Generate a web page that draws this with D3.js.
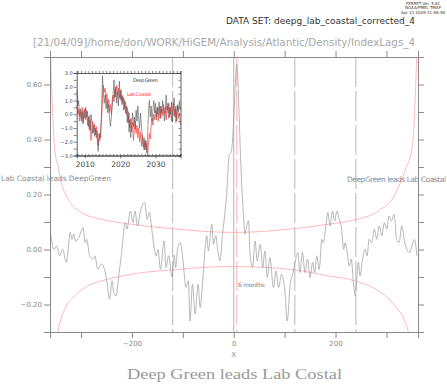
<!DOCTYPE html>
<html>
<head>
<meta charset="utf-8">
<script src="https://cdn.jsdelivr.net/npm/d3@7"></script>
<style>
body { margin: 0; background: #fff; }
text { font-family: "DejaVu Sans", sans-serif; }
</style>
</head>
<body>
<svg id="chart" width="447" height="384"></svg>
<script>
// lagged correlation
var lags = [-360,-353,-348,-342,-336,-329,-321,-318,-314,-311,-304,-296,-292,-289,-283,-276,-273,-267,-260,-254,
    -249,-244,-239,-236,-231,-226,-221,-213,-210,-203,-198,-194,-189,-184,-175,-170,-166,-161,-157,-152,
    -149,-144,-137,-133,-128,-121,-117,-114,-110,-105,-99,-94,-89,-86,-81,-76,-70,-66,-61,-56,
    -53,-50,-43,-40,-35,-32,-27,-22,-19,-14,-8.5,-5,-2,1,6,9,12,16,19,22,
    25,29,32,37,42,46,52,57,61,66,71,78,83,88,94,101,105,111,116,121,
    126,130,135,140,145,150,155,159,163,168,173,176,181,185,189,194,198,203,207,212,
    216,219,222,227,231,235,239,242,245,248,253,258,262,266,271,276,281,286,291,296,
    301,305,310,315,320,325,330,336,340,345,350,355,360];
var corr = [0.062,0.0,0.013,-0.023,0.0,-0.047,0.062,0.037,0.056,0.031,0.045,0.08,0.025,0.037,-0.023,-0.035,-0.023,-0.072,-0.053,-0.072,
    -0.12,-0.181,-0.114,-0.156,-0.169,-0.096,-0.023,0.098,0.074,0.14,0.098,0.14,0.086,0.135,0.171,0.11,0.135,0.074,0.013,-0.023,
    0.0,-0.072,0.031,-0.065,-0.023,-0.1,-0.02,-0.065,0.007,0.025,-0.053,-0.138,-0.114,-0.26,-0.126,-0.235,-0.126,-0.211,-0.114,0.007,
    0.05,-0.005,0.092,0.019,0.05,0.005,-0.041,0.056,0.104,0.201,0.347,0.353,0.407,0.516,0.674,0.577,0.407,0.225,0.128,0.056,
    0.08,0.104,-0.017,-0.065,0.031,-0.041,0.019,-0.065,-0.005,-0.102,-0.029,-0.138,-0.078,-0.138,-0.09,-0.163,-0.26,-0.126,-0.09,-0.041,
    -0.011,-0.084,-0.011,-0.084,-0.035,-0.102,-0.047,-0.084,-0.023,-0.072,0.037,0.025,0.086,0.135,0.086,0.14,0.104,0.14,0.11,0.074,
    0.001,0.025,0.001,-0.06,-0.035,-0.12,-0.169,-0.096,-0.047,-0.096,-0.035,0.001,-0.023,0.037,0.025,0.074,0.037,0.086,0.049,0.098,
    0.074,0.122,0.104,0.128,0.037,0.025,0.086,0.025,0.001,-0.011,0.013,0.037,-0.023];

// significance curves
var sigUpLag = [-361,-358,-356,-352,-345,-339,-326,-300,-267,-234,-201,-168,-120,-60,0,60,120,186,238,284,317,337,350,355,358,362];
var sigUp = [0.80,0.60,0.51,0.37,0.30,0.245,0.185,0.135,0.113,0.10,0.092,0.084,0.076,0.066,0.062,0.066,0.076,0.092,0.108,0.14,0.20,0.29,0.365,0.48,0.62,0.85];
var sigLoLag = [-348,-345,-332,-313,-286,-247,-201,-149,-120,-60,0,60,120,186,238,284,317,337,343,346];
var sigLo = [-0.33,-0.296,-0.217,-0.169,-0.132,-0.108,-0.09,-0.078,-0.074,-0.065,-0.062,-0.065,-0.074,-0.096,-0.114,-0.15,-0.205,-0.265,-0.30,-0.33];

var markLags = [-120, 120, 240];
var peakLag = 6;

var xTicks = [-300, -200, -100, 0, 100, 200, 300];
var yTicks = [-0.2, -0.1, 0.0, 0.1, 0.2, 0.3, 0.4, 0.5, 0.6];

// inset time series, quarterly from 2007.75
var insetStart = 2007.75, insetStep = 0.25;
var deepGreen = [1.7,0.6,1.0,-0.1,0.4,-0.5,0.2,-0.7,0.3,-0.3,0.5,-0.2,0.2,-0.9,-0.1,-1.2,0.0,-0.6,-1.4,-0.8,
    -1.6,-1.0,-1.7,-1.2,-2.7,-1.9,-1.4,-1.7,0.5,2.8,1.5,0.8,1.4,0.4,1.0,0.1,0.7,-0.3,-0.9,-0.2,
    0.6,1.5,2.5,1.2,2.0,0.8,1.6,0.6,2.4,1.1,1.8,0.7,1.3,0.3,1.0,0.1,0.6,-0.6,0.2,-1.3,
    -0.4,-1.7,-0.7,0.1,-0.9,-0.2,-1.1,0.3,-0.5,0.6,-0.4,-1.0,0.1,-0.8,-1.6,-2.4,-1.7,-2.6,-1.9,-2.8,
    -1.5,0.2,1.0,-0.2,0.6,-0.5,0.3,1.0,0.1,0.8,-0.4,0.5,0.0,0.9,-0.3,0.6,0.1,1.0,0.2,-0.5,
    0.4,1.4,0.3,0.8,-0.3,0.5,0.0,0.9,-0.6,0.4,1.2,-0.2,0.6,-0.5,0.7,0.2,0.9,0.3];
var labCoastal = [0.6,0.0,0.4,-0.5,0.2,-0.3,0.5,-0.6,0.0,0.4,-0.4,0.3,-0.8,-0.2,-1.1,-0.4,-1.9,-1.0,-0.5,-1.3,
    -0.7,-1.5,-0.9,-1.8,-2.3,-1.4,-1.9,-1.0,-0.3,1.2,2.1,1.6,1.9,1.0,1.5,0.5,1.1,0.2,0.7,0.0,
    1.0,1.4,0.9,1.8,1.3,2.1,1.5,1.9,1.2,1.7,1.0,1.4,0.8,1.2,0.4,0.9,0.0,0.5,-0.6,0.1,
    -1.0,-0.3,-1.3,-0.6,-1.9,-1.1,-0.5,-1.4,-0.8,-1.7,-1.0,-2.0,-1.3,-2.3,-1.5,-2.1,-2.6,-1.9,-2.5,-2.1,
    -3.0,-2.2,-1.4,-1.8,-0.9,-0.3,-0.8,0.0,-0.4,0.3,-0.2,0.5,-0.5,0.2,0.6,-0.3,0.4,-0.1,0.7,0.0,
    0.5,-0.4,0.6,0.1,0.8,-0.2,0.5,-0.5,0.3,0.8,-0.1,0.4,-0.6,0.2,0.6,-0.3,0.1,-0.8];
var insetYTicks = [-3, -2.5, -2, -1.5, -1, -0.5, 0, 0.5, 1, 1.5, 2, 2.5, 3];
var decades = [2010, 2020, 2030];

var axisGrey = "#8a8a8a", textGrey = "#8c8c8c";

var svg = d3.select("#chart");

var x = d3.scaleLinear().domain([-361, 362]).range([50, 418]);
var y = d3.scaleLinear().domain([-0.3, 0.7]).range([332, 57]);

svg.append("clipPath").attr("id", "plotclip")
    .append("rect").attr("x", 50).attr("y", 57).attr("width", 368).attr("height", 275);

var plot = svg.append("g").attr("clip-path", "url(#plotclip)");

var fmt = d3.format(".2f");
var yFmt = function (d) {
    var v = Math.round(d * 100);
    if (v % 20 !== 0) return "";
    return (v < 0 ? "\u2212" : "") + fmt(Math.abs(d));
};

function styleAxis(g) {
    g.select(".domain").attr("stroke", axisGrey).attr("stroke-width", 1);
    g.selectAll(".tick line").attr("stroke", axisGrey);
    g.selectAll(".tick text").attr("fill", textGrey).style("font-size", "7px")
        .style("font-family", "DejaVu Sans, sans-serif");
}

svg.append("g").attr("transform", "translate(0,332)")
    .call(d3.axisBottom(x).tickValues(xTicks).tickSize(6).tickPadding(3)
        .tickFormat(function (d) { return d % 200 === 0 ? (d < 0 ? "\u2212" + (-d) : d) : ""; }))
    .call(styleAxis);
svg.append("g").attr("transform", "translate(0,57)")
    .call(d3.axisTop(x).tickValues(xTicks).tickSize(6).tickFormat(""))
    .call(styleAxis);
svg.append("g").attr("transform", "translate(50,0)")
    .call(d3.axisLeft(y).tickValues(yTicks).tickSize(6).tickPadding(2).tickFormat(yFmt))
    .call(styleAxis);
svg.append("g").attr("transform", "translate(418,0)")
    .call(d3.axisRight(y).tickValues(yTicks).tickSize(6).tickFormat(""))
    .call(styleAxis);

// vertical markers
plot.append("line")
    .attr("x1", x(0)).attr("x2", x(0)).attr("y1", y(0.7)).attr("y2", y(-0.3))
    .attr("stroke", "#a0a0a0").attr("stroke-width", 0.8);
plot.selectAll(".mark").data(markLags).enter().append("line")
    .attr("class", "mark")
    .attr("x1", function (d) { return x(d); }).attr("x2", function (d) { return x(d); })
    .attr("y1", y(0.7)).attr("y2", y(-0.3))
    .attr("stroke", "#b0b0b0").attr("stroke-width", 0.9).attr("stroke-dasharray", "30,4");
plot.append("line")
    .attr("x1", x(peakLag)).attr("x2", x(peakLag)).attr("y1", y(0.7)).attr("y2", y(-0.3))
    .attr("stroke", "#ffa8a8").attr("stroke-width", 0.9).attr("stroke-dasharray", "30,4");

// significance curves
var sigLine = d3.line().curve(d3.curveMonotoneX)
    .x(function (d) { return x(d[0]); })
    .y(function (d) { return y(d[1]); });
plot.append("path").datum(d3.zip(sigUpLag, sigUp))
    .attr("d", sigLine).attr("fill", "none").attr("stroke", "#ffa8a8").attr("stroke-width", 0.8);
plot.append("path").datum(d3.zip(sigLoLag, sigLo))
    .attr("d", sigLine).attr("fill", "none").attr("stroke", "#ffa8a8").attr("stroke-width", 0.8);

// correlation
plot.append("path").datum(d3.zip(lags, corr))
    .attr("d", sigLine).attr("fill", "none").attr("stroke", "#9a9a9a").attr("stroke-width", 0.7);

// inset
var years = d3.range(deepGreen.length).map(function (i) { return insetStart + i * insetStep; });
var ix = d3.scaleLinear().domain([2007.7, 2037.05]).range([76.7, 180.5]);
var iy = d3.scaleLinear().domain([-3, 3]).range([155.5, 73]);
var inset = svg.append("g");

function styleInset(g, size) {
    g.select(".domain").attr("stroke", "#333").attr("stroke-width", 0.8);
    g.selectAll(".tick line").attr("stroke", "#333").attr("stroke-width", 0.6);
    g.selectAll(".tick text").attr("fill", "#444").style("font-size", size)
        .style("font-family", "DejaVu Sans, sans-serif");
}

var iLine = d3.line()
    .x(function (d) { return ix(d[0]); })
    .y(function (d) { return iy(d[1]); });
inset.append("path").datum(d3.zip(years, labCoastal))
    .attr("d", iLine).attr("fill", "none").attr("stroke", "#ff5050").attr("stroke-width", 0.8);
inset.append("path").datum(d3.zip(years, deepGreen))
    .attr("d", iLine).attr("fill", "none").attr("stroke", "#555").attr("stroke-width", 0.7).attr("opacity", 0.85);

var yearTicks = d3.range(2008, 2038);
inset.append("g").attr("transform", "translate(0,155.5)")
    .call(d3.axisBottom(ix).tickValues(decades).tickSize(3).tickPadding(3).tickFormat(d3.format("d")))
    .call(styleInset, "7.5px");
inset.append("g").attr("transform", "translate(0,155.5)")
    .call(d3.axisTop(ix).tickValues(yearTicks).tickSize(1.5).tickFormat(""))
    .call(styleInset, "5px");
inset.append("g").attr("transform", "translate(0,73)")
    .call(d3.axisTop(ix).tickValues(yearTicks).tickSize(2).tickFormat(""))
    .call(styleInset, "5px");
inset.append("g").attr("transform", "translate(76.7,0)")
    .call(d3.axisLeft(iy).tickValues(insetYTicks).tickSize(3).tickPadding(1)
        .tickFormat(function (d) { return d % 1 === 0 ? d3.format(".1f")(d).replace("-", "\u2212") : ""; }))
    .call(styleInset, "5px");
inset.append("g").attr("transform", "translate(180.5,0)")
    .call(d3.axisLeft(iy).tickValues(insetYTicks).tickSize(2).tickFormat(""))
    .call(styleInset, "5px");

inset.append("text").attr("x", 133).attr("y", 82).text("Deep Green")
    .attr("fill", "#444").style("font-size", "5px").attr("textLength", 25);
inset.append("text").attr("x", 127).attr("y", 96).text("Lab Coastal")
    .attr("fill", "#ff4040").style("font-size", "5px").attr("textLength", 24);

// labels
svg.append("text").attr("x", 238).attr("y", 287).text("6 months")
    .attr("fill", "#777").style("font-size", "6px").attr("textLength", 27);
svg.append("text").attr("x", 1).attr("y", 181).text("Lab Coastal leads DeepGreen")
    .attr("fill", textGrey).style("font-size", "7.5px").attr("textLength", 110);
svg.append("text").attr("x", 347).attr("y", 182).text("DeepGreen leads Lab Coastal")
    .attr("fill", textGrey).style("font-size", "7.5px").attr("textLength", 99);
svg.append("text").attr("x", x(0)).attr("y", 357).attr("text-anchor", "middle").text("X")
    .attr("fill", textGrey).style("font-size", "7px");

svg.append("text").attr("x", 127).attr("y", 379).text("Deep Green leads Lab Costal")
    .attr("fill", "#999").style("font-family", "Liberation Serif, serif").style("font-size", "14px")
    .attr("textLength", 215).attr("lengthAdjust", "spacingAndGlyphs");

svg.append("text").attr("x", 33).attr("y", 46)
    .text("[21/04/09]/home/don/WORK/HiGEM/Analysis/Atlantic/Density/IndexLags_4")
    .attr("fill", "#a8a8a8").style("font-size", "11px")
    .attr("textLength", 382).attr("lengthAdjust", "spacingAndGlyphs");
svg.append("text").attr("x", 226).attr("y", 24)
    .text("DATA SET: deepg_lab_coastal_corrected_4")
    .attr("fill", "#333").style("font-size", "8.5px")
    .attr("textLength", 189).attr("lengthAdjust", "spacingAndGlyphs");

var stamp = ["FERRET Ver. 5.81", "NOAA/PMEL TMAP", "Apr 21 2009 11:58:56"];
svg.selectAll(".stamp").data(stamp).enter().append("text")
    .attr("class", "stamp")
    .attr("x", 423).attr("y", function (d, i) { return 5 + i * 4.3; })
    .attr("text-anchor", "middle").text(function (d) { return d; })
    .attr("fill", "#333").style("font-size", "4px");
</script>
</body>
</html>
